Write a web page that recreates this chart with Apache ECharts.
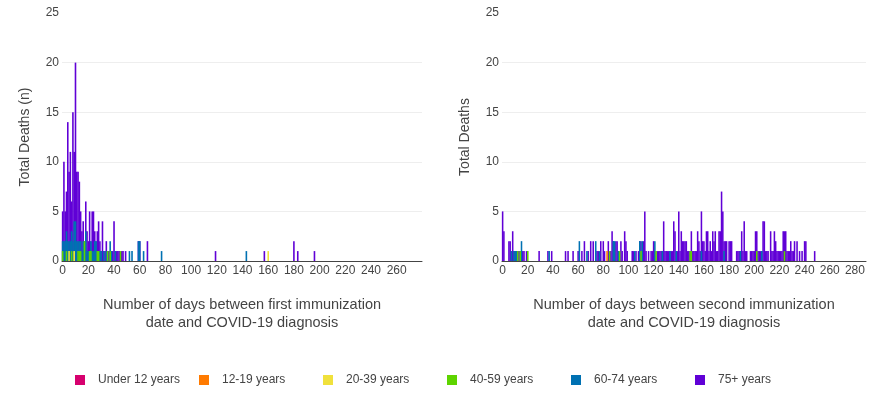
<!DOCTYPE html>
<html>
<head>
<meta charset="utf-8">
<script src="https://cdn.jsdelivr.net/npm/echarts@6/dist/echarts.min.js"></script>
<style>
  html, body { margin: 0; padding: 0; background: #fff; }
  #chart { width: 891px; height: 398px; }
</style>
</head>
<body>
<div id="chart"></div>
<script>
// age groups, legend order
const groups = ['Under 12 years', '12-19 years', '20-39 years', '40-59 years', '60-74 years', '75+ years']
const colors = ['#d6006e', '#ff7a00', '#f0e13c', '#5ed400', '#0071b2', '#6000d6']

const xTicks = [0, 20, 40, 60, 80, 100, 120, 140, 160, 180, 200, 220, 240, 260, 280]

// [day, deaths] - first dose
const first75 = [[0,5],[1,10],[2,5],[3,7],[4,14],[5,9],[6,11],[7,6],[8,15],[9,11],[10,20],[11,9],[12,9],[13,8],[14,5],[15,3],[16,4],[17,2],[18,6],[19,3],[20,2],[21,5],[22,2],[23,5],[24,5],[25,3],[26,2],[27,3],[28,4],[29,2],[30,1],[31,4],[32,1],[33,1],[34,2],[35,1],[36,1],[37,1],[38,1],[39,1],[40,4],[41,1],[42,1],[43,1],[44,1],[46,1],[47,1],[49,1],[59,2],[60,2],[66,2],[119,1],[157,1],[180,2],[183,1],[196,1]]
const first60 = [[0,2],[1,2],[2,2],[3,3],[4,2],[5,2],[6,2],[7,3],[8,2],[9,4],[10,4],[11,2],[12,2],[13,2],[14,2],[15,1],[16,2],[17,1],[18,3],[19,1],[20,1],[21,1],[22,2],[23,1],[24,1],[25,2],[26,2],[27,1],[28,1],[29,1],[30,1],[32,1],[34,1],[37,2],[38,1],[41,1],[52,1],[54,1],[59,2],[60,2],[63,1],[77,1],[143,1]]
const first40 = [[0,1],[3,1],[7,1],[9,1],[12,1],[13,1],[14,1],[17,2],[21,1],[22,1],[27,1],[28,1],[35,1],[37,1],[45,1]]
const first20 = [[5,1],[9,1],[160,1]]
const first12 = []
const firstU12 = []

// [day, deaths] - second dose
const second75 = [[0,5],[1,3],[5,2],[6,2],[7,1],[8,3],[9,1],[10,1],[11,1],[12,1],[13,1],[14,1],[16,1],[17,1],[19,1],[29,1],[36,1],[39,1],[50,1],[52,1],[56,1],[60,1],[63,1],[65,2],[68,1],[70,2],[72,2],[75,1],[76,1],[78,2],[80,2],[81,1],[84,2],[86,1],[87,3],[88,2],[90,2],[91,2],[92,1],[94,2],[95,1],[97,3],[98,2],[99,1],[103,1],[104,1],[106,1],[108,1],[109,2],[110,2],[112,2],[113,5],[114,1],[116,1],[118,1],[119,1],[120,2],[121,1],[123,1],[124,1],[125,1],[126,1],[127,1],[128,4],[129,1],[130,1],[131,1],[132,1],[133,1],[134,1],[135,1],[136,4],[137,3],[138,1],[139,1],[140,5],[141,1],[142,3],[143,2],[144,2],[145,2],[146,2],[147,1],[148,1],[149,1],[150,3],[151,1],[152,1],[153,1],[154,1],[155,3],[156,2],[157,1],[158,5],[159,2],[160,2],[161,1],[162,3],[163,3],[164,1],[165,2],[166,1],[167,3],[168,2],[169,3],[170,1],[171,1],[172,3],[173,3],[174,7],[175,5],[176,2],[177,2],[178,2],[180,2],[181,2],[182,2],[186,1],[187,1],[188,1],[189,1],[190,3],[191,1],[192,4],[193,1],[194,1],[197,1],[198,1],[199,1],[200,1],[201,3],[202,3],[203,1],[204,1],[205,1],[206,1],[207,4],[208,4],[209,1],[210,1],[211,1],[213,3],[214,1],[215,1],[216,3],[217,2],[218,1],[219,1],[220,1],[221,1],[222,1],[223,3],[224,3],[225,3],[226,1],[227,1],[228,1],[229,2],[230,1],[231,1],[232,2],[234,2],[236,1],[238,1],[240,2],[241,2],[248,1]]
const second60 = [[7,1],[9,1],[10,1],[11,1],[15,2],[37,1],[61,2],[67,1],[74,2],[77,1],[88,2],[89,2],[92,1],[105,1],[109,2],[111,2],[121,2],[127,1],[133,1],[138,1],[158,1],[176,1],[189,1],[206,1]]
const second40 = [[12,1],[14,1],[20,1],[85,1],[93,1],[110,1],[122,1],[149,1],[150,1],[202,1],[224,1]]
const second20 = []
const second12 = [[83,1]]
const secondU12 = []

const firstData = [firstU12, first12, first20, first40, first60, first75]
const secondData = [secondU12, second12, second20, second40, second60, second75]

const font = 'Liberation Sans, Arial, sans-serif'
const textColor = '#444'

const chart = echarts.init(document.getElementById('chart'), null, { renderer: 'canvas' })

function xAxis(gridIndex, max, title) {
  return {
    type: 'value',
    gridIndex: gridIndex,
    min: -0.5,
    max: max,
    name: title,
    nameLocation: 'middle',
    nameGap: 35,
    nameTextStyle: { fontFamily: font, fontSize: 14.5, color: textColor, lineHeight: 18 },
    axisLine: { show: true, lineStyle: { color: '#444', width: 1 } },
    axisTick: { show: false },
    splitLine: { show: false },
    axisLabel: {
      customValues: xTicks.filter(t => t <= max),
      margin: 4,
      color: textColor,
      fontFamily: font,
      fontSize: 12
    }
  }
}

function yAxis(gridIndex, title) {
  return {
    type: 'value',
    gridIndex: gridIndex,
    min: 0,
    max: 25,
    interval: 5,
    name: title,
    nameLocation: 'middle',
    nameGap: 30,
    nameTextStyle: { fontFamily: font, fontSize: 14, color: textColor },
    axisLine: { show: false },
    axisTick: { show: false },
    splitLine: {
      show: true,
      lineStyle: { color: ['rgba(0,0,0,0)', '#eee', '#eee', '#eee', '#eee', 'rgba(0,0,0,0)'], width: 1 }
    },
    axisLabel: { margin: 3, color: textColor, fontFamily: font, fontSize: 12 }
  }
}

// draw 75+ first so the younger groups sit on top
const series = []
;[[firstData, 0, 1.6], [secondData, 1, 1.55]].forEach(([sets, idx, w]) => {
  for (let i = groups.length - 1; i >= 0; i--) {
    series.push({
      type: 'bar',
      name: groups[i],
      xAxisIndex: idx,
      yAxisIndex: idx,
      data: sets[i],
      barWidth: w,
      barGap: '-100%',
      itemStyle: { color: colors[i] },
      silent: true,
      animation: false
    })
  }
})

chart.setOption({
  backgroundColor: '#fff',
  animation: false,
  color: colors,
  grid: [
    { left: 62, top: 13, width: 360, height: 248 },
    { left: 502, top: 13, width: 364, height: 248 }
  ],
  xAxis: [
    xAxis(0, 279.7, 'Number of days between first immunization\ndate and COVID-19 diagnosis'),
    xAxis(1, 288.8, 'Number of days between second immunization\ndate and COVID-19 diagnosis')
  ],
  yAxis: [
    yAxis(0, 'Total Deaths (n)'),
    yAxis(1, 'Total Deaths')
  ],
  legend: groups.map((g, i) => ({
    data: [{ name: g, icon: 'rect' }],
    left: 70 + 124 * i,
    top: 369,
    itemWidth: 10,
    itemHeight: 10,
    selectedMode: false,
    textStyle: { fontFamily: font, fontSize: 12, color: textColor, padding: [0, 0, 0, 8] }
  })),
  series: series
})
</script>
</body>
</html>
